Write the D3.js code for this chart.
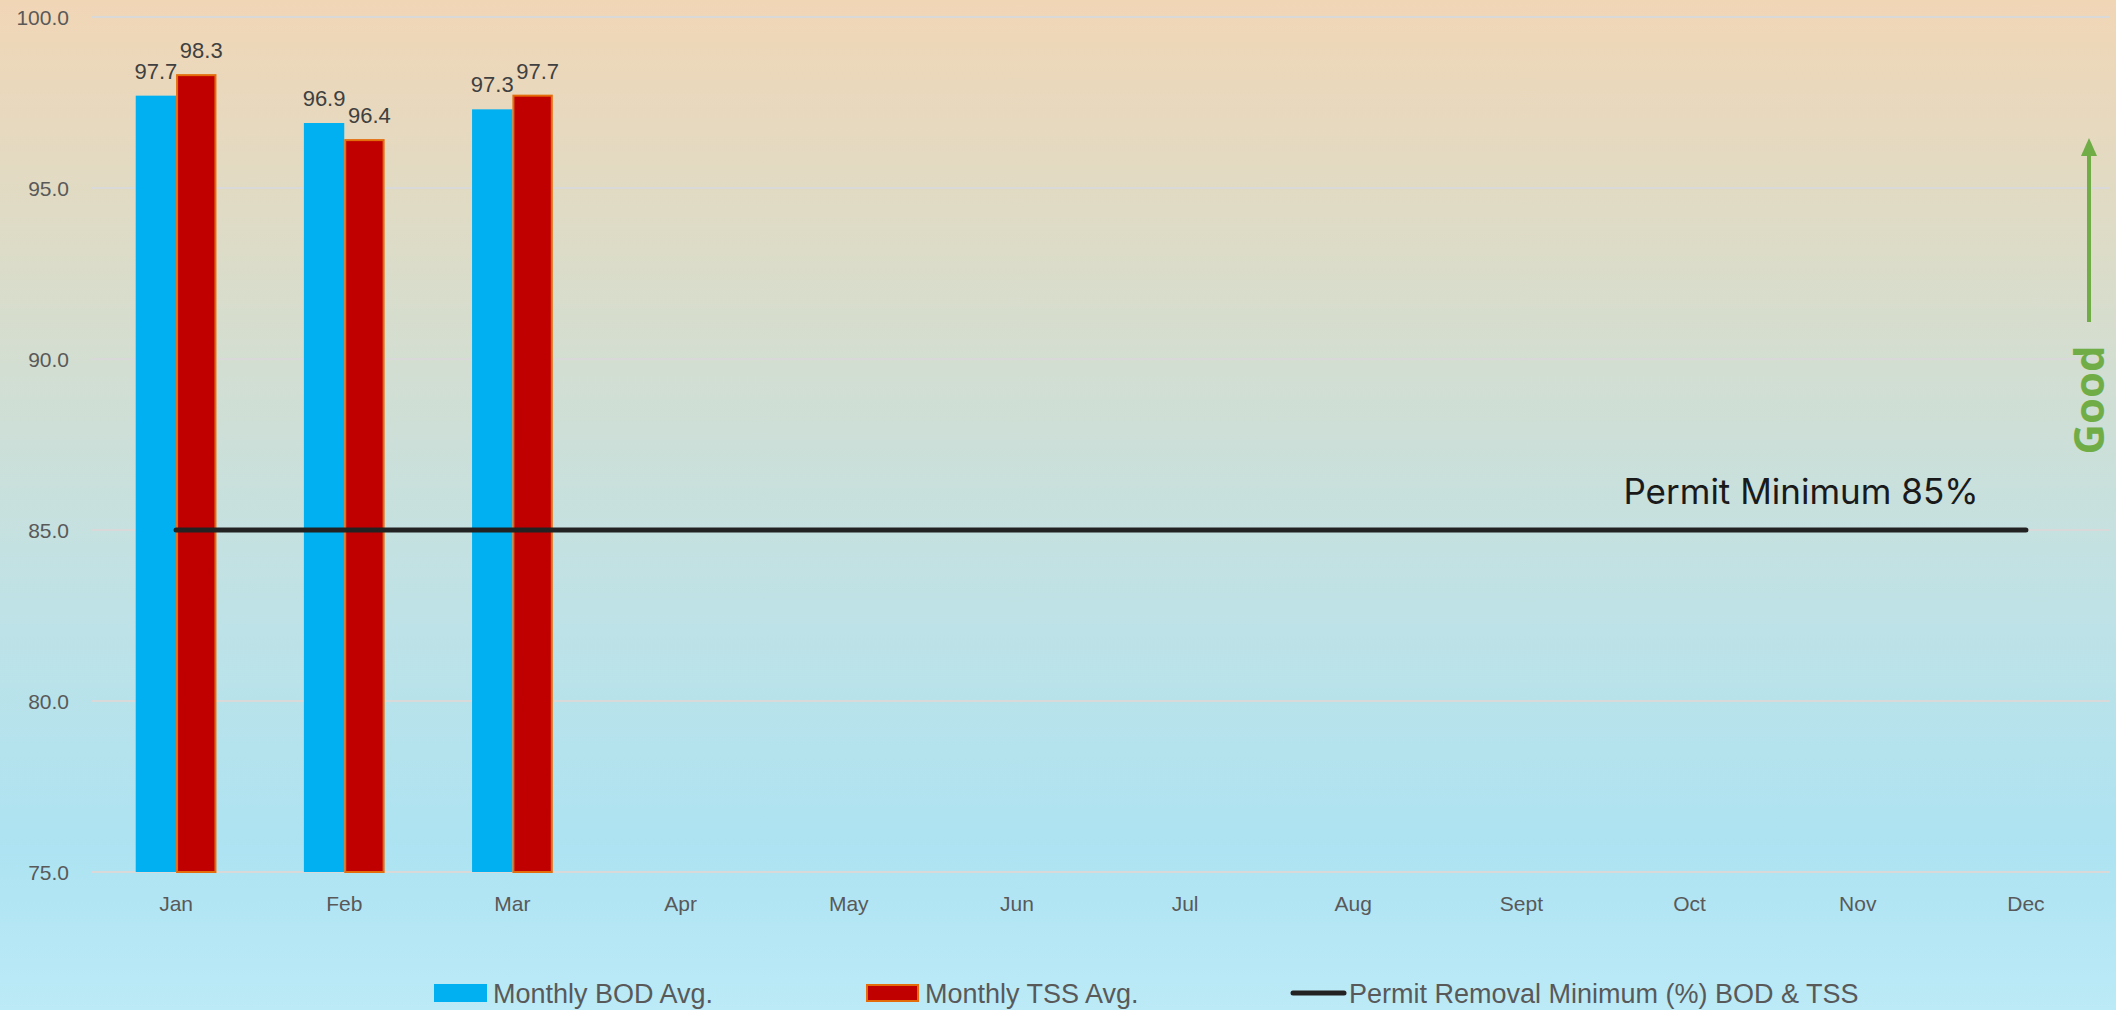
<html>
<head>
  <title>BOD / TSS removal</title>
  <script src="https://d3js.org/d3.v7.min.js"></script>
  <style>
    body { margin: 0; }
    .tick-label { font-family: "Liberation Sans", Arial, sans-serif; fill: #595959; }
    .data-label { font-family: "Liberation Sans", Arial, sans-serif; fill: #404040; font-size: 22px; }
    .legend-text { font-family: "Liberation Sans", Arial, sans-serif; fill: #595959; font-size: 27px; }
  </style>
</head>
<body>
  <svg id="chart" width="2116" height="1010"></svg>

  <script>
    // data
    const months = ["Jan", "Feb", "Mar", "Apr", "May", "Jun", "Jul", "Aug", "Sept", "Oct", "Nov", "Dec"];
    const bodAvg = [97.7, 96.9, 97.3, null, null, null, null, null, null, null, null, null];
    const tssAvg = [98.3, 96.4, 97.7, null, null, null, null, null, null, null, null, null];
    const permitMin = [85, 85, 85, 85, 85, 85, 85, 85, 85, 85, 85, 85];
    const yTicks = [75, 80, 85, 90, 95, 100];
    const seriesNames = ["Monthly BOD Avg.", "Monthly TSS Avg.", "Permit Removal Minimum (%) BOD & TSS"];

    const svg = d3.select("#chart");
    const width = +svg.attr("width");
    const height = +svg.attr("height");
    const plot = { left: 92, right: 2110, top: 17, bottom: 872 };

    // background gradient
    const defs = svg.append("defs");
    const grad = defs.append("linearGradient")
      .attr("id", "bg").attr("x1", 0).attr("y1", 0).attr("x2", 0).attr("y2", 1);
    [["0%", "#F1D6B6"], ["25%", "#DCDCC8"], ["60%", "#BFE2E6"], ["84%", "#ADE3F2"], ["100%", "#BCEAF7"]]
      .forEach(s => grad.append("stop").attr("offset", s[0]).attr("stop-color", s[1]));
    svg.append("rect").attr("width", width).attr("height", height).attr("fill", "url(#bg)");

    const x0 = d3.scaleBand().domain(months)
      .range([plot.left, plot.right]).paddingInner(0.52).paddingOuter(0.26);
    const x1 = d3.scaleBand().domain(["bod", "tss"]).range([0, x0.bandwidth()]);
    const y = d3.scaleLinear().domain([75, 100]).range([plot.bottom, plot.top]);

    // gridlines
    svg.append("g").selectAll("line").data(yTicks)
      .join("line")
      .attr("x1", plot.left).attr("x2", plot.right)
      .attr("y1", d => y(d)).attr("y2", d => y(d))
      .attr("stroke", "#D9D9D9").attr("stroke-width", 2);

    // y axis labels
    svg.append("g").selectAll("text").data(yTicks)
      .join("text")
      .attr("class", "tick-label")
      .attr("x", 69).attr("y", d => y(d))
      .attr("dy", "0.36em")
      .attr("text-anchor", "end")
      .attr("font-size", 21)
      .text(d => d.toFixed(1));

    // x axis labels
    svg.append("g").selectAll("text").data(months)
      .join("text")
      .attr("class", "tick-label")
      .attr("x", d => x0(d) + x0.bandwidth() / 2)
      .attr("y", 911)
      .attr("text-anchor", "middle")
      .attr("font-size", 21)
      .text(d => d);

    // bars
    const rows = months.map((m, i) => ({ month: m, bod: bodAvg[i], tss: tssAvg[i] }));
    const bars = svg.append("g");

    bars.selectAll(".bod").data(rows.filter(d => d.bod != null))
      .join("rect")
      .attr("class", "bod")
      .attr("x", d => x0(d.month) + x1("bod"))
      .attr("width", x1.bandwidth())
      .attr("y", d => y(d.bod))
      .attr("height", d => y(75) - y(d.bod))
      .attr("fill", "#00B0F0");

    bars.selectAll(".tss").data(rows.filter(d => d.tss != null))
      .join("rect")
      .attr("class", "tss")
      .attr("x", d => x0(d.month) + x1("tss") + 1)
      .attr("width", x1.bandwidth() - 2)
      .attr("y", d => y(d.tss))
      .attr("height", d => y(75) - y(d.tss))
      .attr("fill", "#C00000")
      .attr("stroke", "#E46C0A")
      .attr("stroke-width", 2);

    // data labels
    bars.selectAll(".lbl-bod").data(rows.filter(d => d.bod != null))
      .join("text")
      .attr("class", "data-label")
      .attr("x", d => x0(d.month) + x1("bod") + x1.bandwidth() / 2)
      .attr("y", d => y(d.bod) - 17)
      .attr("text-anchor", "middle")
      .text(d => d.bod.toFixed(1));

    bars.selectAll(".lbl-tss").data(rows.filter(d => d.tss != null))
      .join("text")
      .attr("class", "data-label")
      .attr("x", d => x0(d.month) + x1("tss") + x1.bandwidth() / 2 + 5)
      .attr("y", d => y(d.tss) - 17)
      .attr("text-anchor", "middle")
      .text(d => d.tss.toFixed(1));

    // permit minimum line
    const line = d3.line()
      .x((d, i) => x0(months[i]) + x0.bandwidth() / 2)
      .y(d => y(d));
    svg.append("path")
      .datum(permitMin)
      .attr("d", line)
      .attr("fill", "none")
      .attr("stroke", "#222222")
      .attr("stroke-width", 5)
      .attr("stroke-linecap", "round");

    svg.append("text")
      .attr("x", 1801).attr("y", y(85) - 26)
      .attr("text-anchor", "middle")
      .attr("font-family", "Inter, 'Open Sans', sans-serif")
      .attr("font-size", 35)
      .attr("fill", "#1a1a1a")
      .text("Permit Minimum 85%");

    // "Good" arrow
    svg.append("line")
      .attr("x1", 2089).attr("x2", 2089)
      .attr("y1", 322).attr("y2", 154)
      .attr("stroke", "#70AD47").attr("stroke-width", 4);
    svg.append("path")
      .attr("d", "M2089,138 L2097,156 L2081,156 Z")
      .attr("fill", "#70AD47");
    svg.append("text")
      .attr("transform", "translate(2104,400) rotate(-90)")
      .attr("text-anchor", "middle")
      .attr("font-family", "'Open Sans', sans-serif")
      .attr("font-weight", "bold")
      .attr("font-size", 42)
      .attr("fill", "#70AD47")
      .text("Good");

    // legend
    const legend = svg.append("g");
    const legendX = [434, 866, 1290];
    const ly = 993;
    legend.append("rect").attr("x", legendX[0]).attr("y", ly - 9).attr("width", 53).attr("height", 18)
      .attr("fill", "#00B0F0");
    legend.append("rect").attr("x", legendX[1] + 1).attr("y", ly - 8).attr("width", 51).attr("height", 16)
      .attr("fill", "#C00000").attr("stroke", "#E46C0A").attr("stroke-width", 2);
    legend.append("line").attr("x1", legendX[2] + 3).attr("x2", legendX[2] + 54)
      .attr("y1", ly).attr("y2", ly)
      .attr("stroke", "#222222").attr("stroke-width", 5).attr("stroke-linecap", "round");
    legend.selectAll("text").data(seriesNames)
      .join("text")
      .attr("class", "legend-text")
      .attr("x", (d, i) => legendX[i] + 59)
      .attr("y", ly)
      .attr("dy", "0.36em")
      .text(d => d);
  </script>
</body>
</html>
